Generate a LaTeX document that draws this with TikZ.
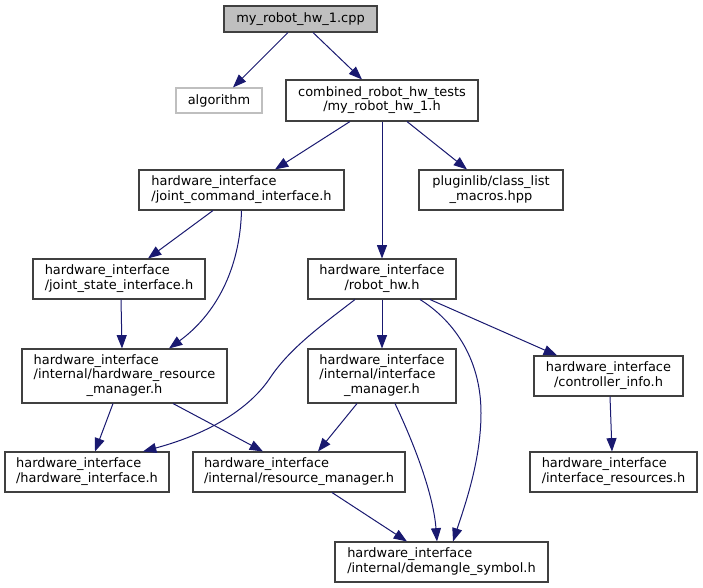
\documentclass[tikz,border=0pt]{standalone}
\usepackage{fontspec}
\setmainfont{DejaVu Sans}
\usetikzlibrary{arrows.meta,calc}
\definecolor{edgeblue}{HTML}{191970}
\definecolor{boxline}{HTML}{404040}
\definecolor{cppfill}{HTML}{BFBFBF}
\definecolor{extline}{HTML}{BFBFBF}
\newcommand{\flbl}[2]{\begin{tabular}{@{}l@{}}#1\\\multicolumn{1}{@{}c@{}}{#2}\end{tabular}}
\begin{document}
\begin{tikzpicture}[x=0.75pt,y=-0.75pt,
  filebox/.style={draw=boxline, line width=0.8pt, inner sep=0pt, font=\fontsize{9.7}{10.8}\selectfont},
  incl/.style={draw=edgeblue, line width=0.75pt, -{Triangle[length=10pt,width=7.5pt]}}]
\useasboundingbox (0,0) rectangle (703,588);
\node[filebox, fill=cppfill, minimum width=114.75pt, minimum height=19.5pt] (f0) at (300.5,19) {my\_robot\_hw\_1.cpp};
\node[filebox, draw=extline, minimum width=64.5pt, minimum height=18.75pt] (f1) at (219,100.5) {algorithm};
\node[filebox, minimum width=144pt, minimum height=30.75pt] (f2) at (382,100.5) {\flbl{combined\_robot\_hw\_tests}{/my\_robot\_hw\_1.h}};
\draw[incl] ($(f0.south)+(-12.5,0)$) -- ($(f1.north)+(14,0)$);
\draw[incl] ($(f0.south)+(12.5,0)$) -- ($(f2.north)+(-20,0)$);
\node[filebox, minimum width=153.75pt, minimum height=30pt] (f3) at (241.5,190) {\flbl{hardware\_interface}{/joint\_command\_interface.h}};
\node[filebox, minimum width=108pt, minimum height=30pt] (f4) at (491,190) {\flbl{pluginlib/class\_list}{\_macros.hpp}};
\node[filebox, minimum width=111pt, minimum height=30pt] (f6) at (382,279) {\flbl{hardware\_interface}{/robot\_hw.h}};
\draw[incl] ($(f2.south)+(-32,0)$) -- ($(f3.north)+(33.5,0)$);
\draw[incl] (f2.south) -- (f6.north);
\draw[incl] ($(f2.south)+(25,0)$) -- ($(f4.north)+(-24,0)$);
\node[filebox, minimum width=129pt, minimum height=30pt] (f5) at (119,279) {\flbl{hardware\_interface}{/joint\_state\_interface.h}};
\node[filebox, minimum width=153.75pt, minimum height=40.5pt] (f7) at (124.5,376) {\flbl{hardware\_interface\\/internal/hardware\_resource}{\_manager.h}};
\draw[incl] ($(f3.south)+(-28.5,0)$) -- ($(f5.north)+(29,0)$);
\draw[incl] (f3.south) .. controls (240,270) and (215,315) .. ($(f7.north)+(44.5,0)$);
\draw[incl] ($(f5.south)+(2,0)$) -- ($(f7.north)+(-2.5,0)$);
\node[filebox, minimum width=111pt, minimum height=40.5pt] (f8) at (382,376) {\flbl{hardware\_interface\\/internal/interface}{\_manager.h}};
\node[filebox, minimum width=111.75pt, minimum height=30pt] (f9) at (608.5,376) {\flbl{hardware\_interface}{/controller\_info.h}};
\node[filebox, minimum width=123pt, minimum height=30pt] (f10) at (87,472) {\flbl{hardware\_interface}{/hardware\_interface.h}};
\node[filebox, minimum width=159pt, minimum height=30pt] (f11) at (299,472) {\flbl{hardware\_interface}{/internal/resource\_manager.h}};
\node[filebox, minimum width=125.25pt, minimum height=30pt] (f12) at (613.5,472) {\flbl{hardware\_interface}{/interface\_resources.h}};
\node[filebox, minimum width=159.75pt, minimum height=30pt] (f13) at (441.5,562) {\flbl{hardware\_interface}{/internal/demangle\_symbol.h}};
\draw[incl] ($(f6.south)+(-27,0)$) .. controls (322,325) and (290,348) .. (270,378) .. controls (252,405) and (215,432) .. ($(f10.north)+(56,0)$);
\draw[incl] (f6.south) -- (f8.north);
\draw[incl] ($(f6.south)+(38,0)$) .. controls (450,318) and (481,355) .. (481,413) .. controls (481,460) and (465,505) .. ($(f13.north)+(11.5,0)$);
\draw[incl] ($(f6.south)+(48,0)$) -- ($(f9.north)+(-51.5,0)$);
\draw[incl] ($(f7.south)+(-11.5,0)$) -- ($(f10.north)+(8,0)$);
\draw[incl] ($(f7.south)+(48.5,0)$) -- ($(f11.north)+(-36,0)$);
\draw[incl] ($(f8.south)+(-25,0)$) -- ($(f11.north)+(19,0)$);
\draw[incl] ($(f8.south)+(13,0)$) .. controls (410,435) and (433,490) .. ($(f13.north)+(-4.5,0)$);
\draw[incl] ($(f9.south)+(1.5,0)$) -- ($(f12.north)+(-1.5,0)$);
\draw[incl] ($(f11.south)+(33,0)$) -- ($(f13.north)+(-34.5,0)$);

\end{tikzpicture}
\end{document}
